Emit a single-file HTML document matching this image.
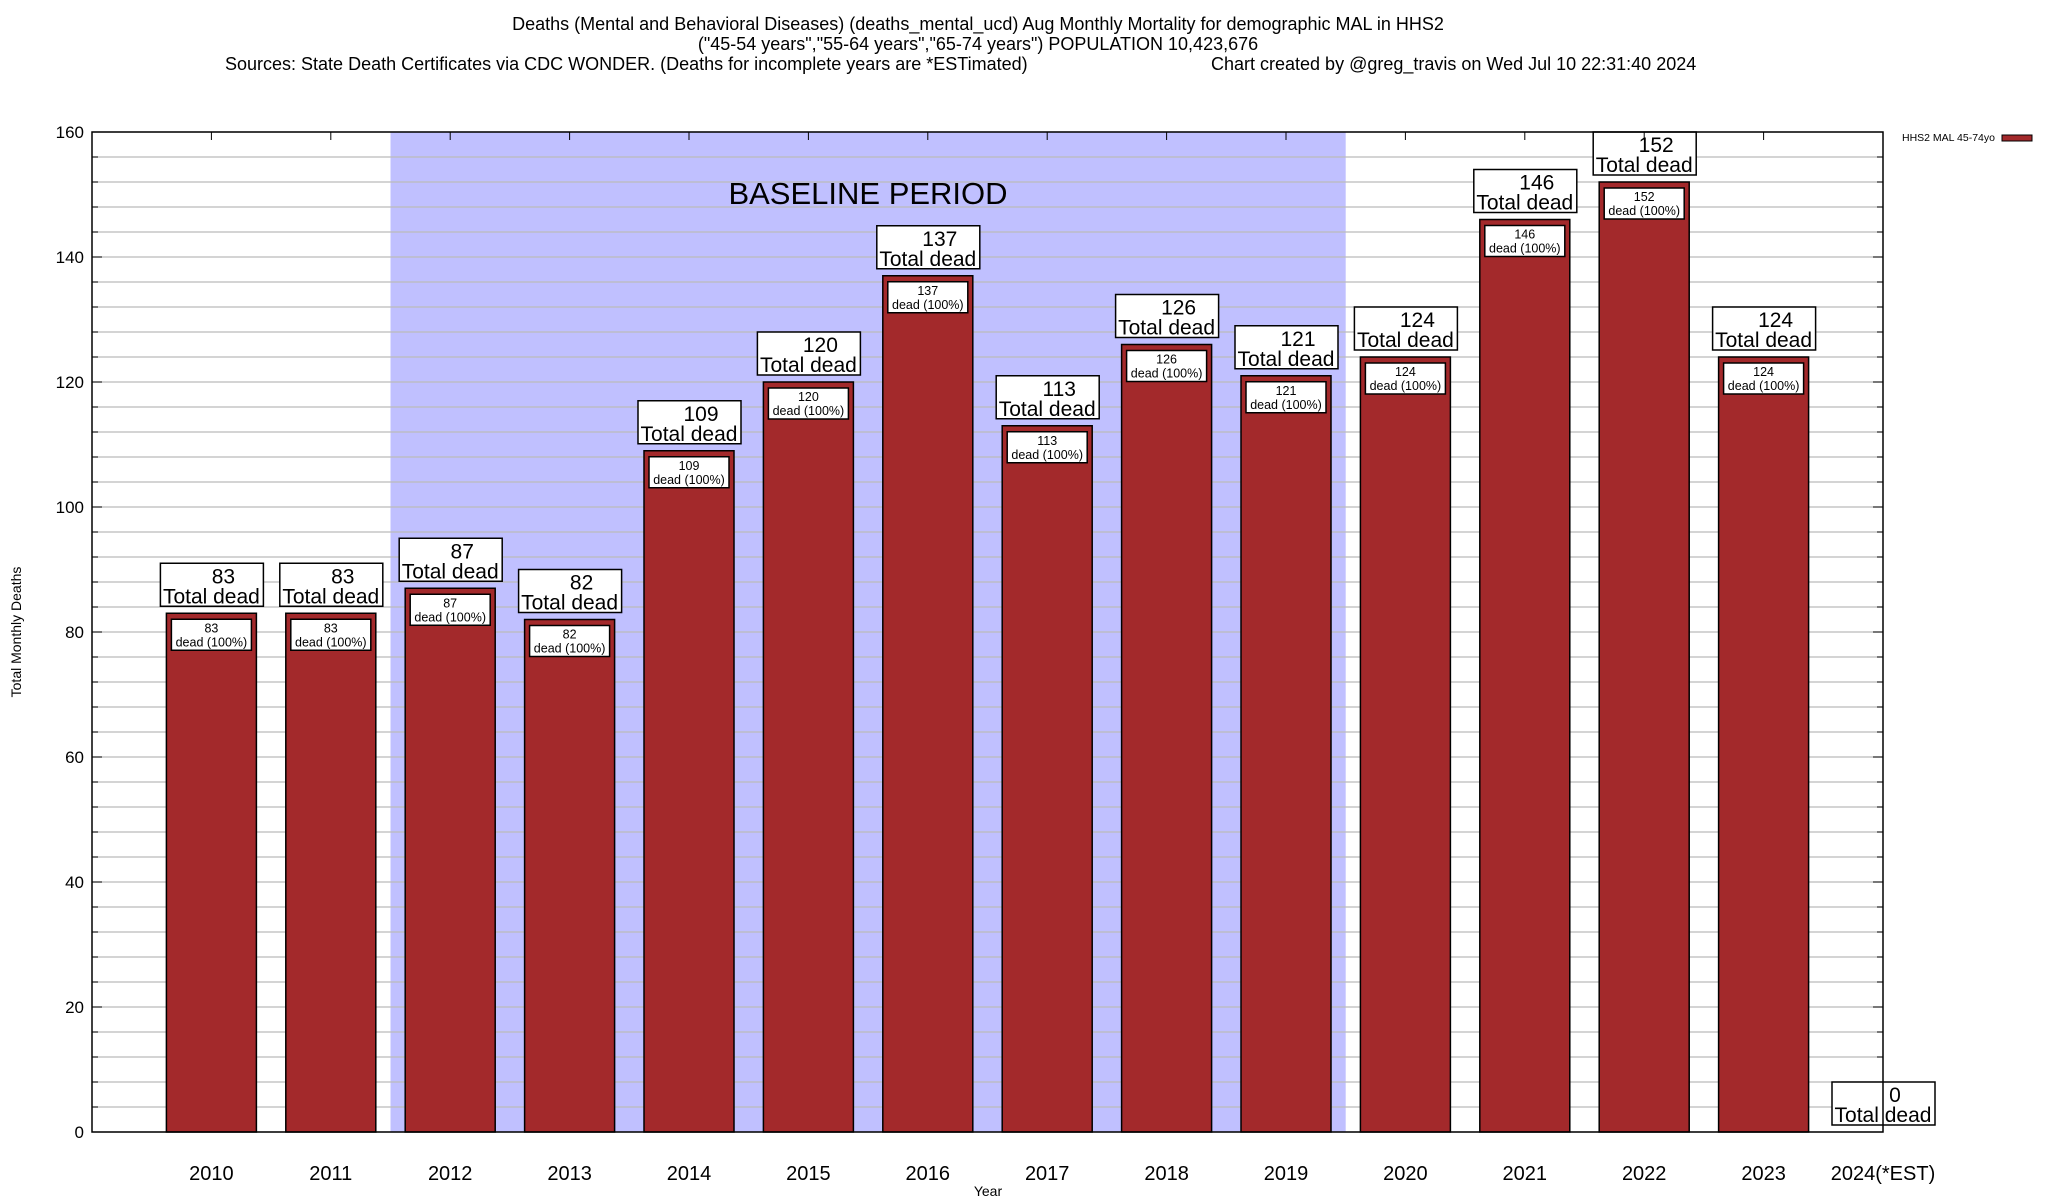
<!DOCTYPE html>
<html><head><meta charset="utf-8"><style>
html,body{margin:0;padding:0;background:#fff}
svg{display:block;font-family:"Liberation Sans",sans-serif}
</style></head><body>
<svg id="chart" width="2048" height="1200" viewBox="0 0 2048 1200" xmlns="http://www.w3.org/2000/svg">
<g font-size="18" fill="#000">
<text x="978" y="30" text-anchor="middle">Deaths (Mental and Behavioral Diseases) (deaths_mental_ucd) Aug Monthly Mortality for demographic MAL in HHS2</text>
<text x="978" y="50" text-anchor="middle">("45-54 years","55-64 years","65-74 years") POPULATION 10,423,676</text>
<text x="225" y="70">Sources: State Death Certificates via CDC WONDER. (Deaths for incomplete years are *ESTimated)</text>
<text x="1211" y="70">Chart created by @greg_travis on Wed Jul 10 22:31:40 2024</text>
</g>
<g id="plot"></g>
</svg>
<script>
const categories=["2010","2011","2012","2013","2014","2015","2016","2017","2018","2019","2020","2021","2022","2023","2024(*EST)"];
const deaths=[83,83,87,82,109,120,137,113,126,121,124,146,152,124,0];
const yTicks=[0,20,40,60,80,100,120,140,160];
const baselineRange=[2,9];
const L=92,R=1883,T=132,B=1132,yMax=160;
const pitch=(R-L)/(categories.length);
const xs=i=>L+pitch*(i+1);
const ys=v=>B-(v/yMax)*(B-T);
const NS="http://www.w3.org/2000/svg";
const g=document.getElementById('plot');
function mk(tag,attrs,parent){const e=document.createElementNS(NS,tag);for(const k in attrs)e.setAttribute(k,attrs[k]);(parent||g).appendChild(e);return e;}
// baseline shading
const sh=mk('rect',{x:xs(baselineRange[0])-pitch/2,y:T,width:(baselineRange[1]-baselineRange[0]+1)*pitch,height:B-T,fill:'#c0c0ff'});


// grid
for(let v=0;v<=yMax;v+=4){
  const y=ys(v);
  const l=mk('line',{x1:L,x2:R,y1:y,y2:y,stroke:'#bbb','stroke-width':1.2});
  
  
  mk('line',{x1:L,x2:L+(v%20==0?10:6),y1:y,y2:y,stroke:'#000'});
  mk('line',{x1:R,x2:R-(v%20==0?10:6),y1:y,y2:y,stroke:'#000'});
}
const bt=mk('text',{x:868,y:204,'font-size':31,'text-anchor':'middle'});bt.textContent='BASELINE PERIOD';


// y tick labels
yTicks.forEach(v=>{const t=mk('text',{x:84,y:ys(v)+6,'font-size':17,'text-anchor':'end'});t.textContent=v;

});
// bars
categories.forEach((c,i)=>{
  const cx=xs(i),v=deaths[i],yt=ys(v);
  if(v>0){
    const b=mk('rect',{x:cx-45,y:yt,width:90,height:B-yt,fill:'#a3292b',stroke:'#000','stroke-width':1.5});
    
    
    const ib=mk('rect',{x:cx-40,y:yt+6,width:80,height:31,fill:'#fff',stroke:'#000','stroke-width':1.5});
    
    
    const t1=mk('text',{x:cx,y:yt+19,'font-size':12.5,'text-anchor':'middle'});t1.textContent=v;
    const t2=mk('text',{x:cx,y:yt+33,'font-size':12.5,'text-anchor':'middle'});t2.textContent='dead (100%)';
  }
  const by=yt-50;
  const ob=mk('rect',{x:cx-51,y:by,width:103,height:43,fill:'#fff',stroke:'#000','stroke-width':1.5});
  
  
  const a=mk('text',{x:cx+12,y:by+20,'font-size':21,'text-anchor':'middle'});a.textContent=v;
  const b2=mk('text',{x:cx,y:by+40,'font-size':21,'text-anchor':'middle'});b2.textContent='Total dead';
  const xl=mk('text',{x:cx,y:1180,'font-size':20,'text-anchor':'middle'});xl.textContent=c;
  
  
  mk('line',{x1:cx,x2:cx,y1:T,y2:T+8,stroke:'#000'});
});
const fr=mk('rect',{x:L,y:T,width:R-L,height:B-T,fill:'none',stroke:'#000','stroke-width':1.5});


const xt=mk('text',{x:988,y:1196,'font-size':14,'text-anchor':'middle'});xt.textContent='Year';


const yt=mk('text',{x:0,y:0,'font-size':14,'text-anchor':'middle',transform:'translate(21,632) rotate(-90)'});yt.textContent='Total Monthly Deaths';


const lt=mk('text',{x:1902,y:141,'font-size':10.5});lt.textContent='HHS2 MAL 45-74yo';


const ls=mk('rect',{x:2002,y:135,width:30,height:6,fill:'#a3292b',stroke:'#000','stroke-width':1});


</script>
</body></html>
